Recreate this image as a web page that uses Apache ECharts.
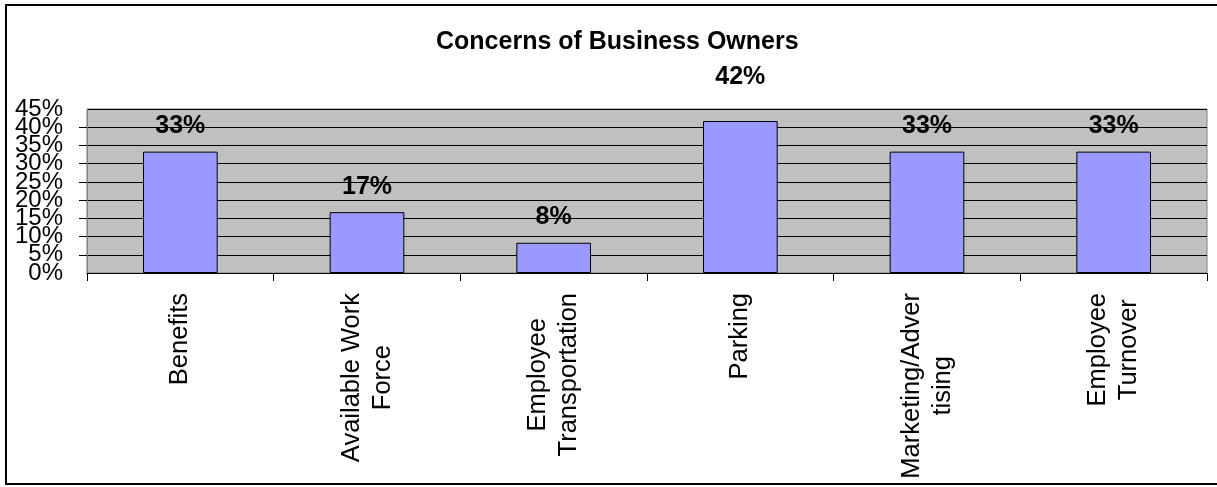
<!DOCTYPE html>
<html>
<head>
<meta charset="utf-8">
<script src="https://cdn.jsdelivr.net/npm/echarts@6/dist/echarts.min.js"></script>
<style>
html,body{margin:0;padding:0;background:#fff;}
#chart{width:1217px;height:487px;}
</style>
</head>
<body>
<div id="chart"></div>
<script>
var title = 'Concerns of Business Owners';
var categories = ['Benefits', 'Available Work\nForce', 'Employee\nTransportation', 'Parking', 'Marketing/Adver\ntising', 'Employee\nTurnover'];
var values = [0.333, 0.167, 0.083, 0.417, 0.333, 0.333];
var yTicks = [0, 0.05, 0.10, 0.15, 0.20, 0.25, 0.30, 0.35, 0.40, 0.45];

var FONT = "'Liberation Sans', Arial, sans-serif";
var chart = echarts.init(document.getElementById('chart'), null, {renderer: 'canvas'});

var yMin = yTicks[0];
var yMax = yTicks[yTicks.length - 1];
var yStep = yTicks[1] - yTicks[0];
function pct(v) { return Math.round(v * 100) + '%'; }

var seriesData = values.map(function (v, i) {
  var item = {value: v};
  if (categories[i] === 'Parking') {
    item.label = {distance: 31};
  }
  return item;
});

var yLabelBase = {
  margin: 24,
  color: '#000',
  fontFamily: FONT,
  fontSize: 24,
  hideOverlap: false
};

var option = {
  backgroundColor: '#ffffff',
  animation: false,
  title: {
    text: title,
    left: 436,
    top: 30,
    padding: 0,
    textStyle: {fontFamily: FONT, fontSize: 25, fontWeight: 'bold', color: '#000'}
  },
  graphic: [{
    type: 'rect',
    shape: {x: 6, y: 5, width: 1225, height: 479},
    style: {fill: 'none', stroke: '#000', lineWidth: 2},
    silent: true,
    z: 100
  }],
  grid: {
    left: 87, right: 10, top: 109, bottom: 214,
    show: true,
    backgroundColor: '#C0C0C0',
    borderColor: '#808080',
    borderWidth: 1
  },
  xAxis: {
    type: 'category',
    data: categories,
    boundaryGap: true,
    axisLine: {show: true, lineStyle: {color: '#000', width: 1}},
    axisTick: {show: true, length: 8, interval: 0, lineStyle: {color: '#000'}},
    axisLabel: {
      interval: 0,
      rotate: 90,
      margin: 20,
      color: '#000',
      fontFamily: FONT,
      fontSize: 25.5,
      lineHeight: 31,
      formatter: function (v) {
        return v.split('\n').map(function (s) { return '{c|' + s + '}'; }).join('\n');
      },
      rich: {c: {align: 'center', fontFamily: FONT, fontSize: 25.5, lineHeight: 31, color: '#000'}}
    },
    splitLine: {show: false}
  },
  yAxis: [{
    type: 'value',
    position: 'left',
    min: yMin,
    max: yMax,
    interval: yStep,
    axisLine: {show: true, lineStyle: {color: '#808080', width: 1}},
    axisTick: {show: true, length: 8, lineStyle: {color: '#000'}},
    axisLabel: Object.assign({}, yLabelBase, {
      showMinLabel: false,
      showMaxLabel: false,
      formatter: pct
    }),
    splitLine: {show: true, lineStyle: {color: '#000', width: 1}}
  }, {
    type: 'value',
    position: 'left',
    offset: 0,
    min: yMin,
    max: yMax,
    interval: yStep,
    axisLine: {show: false},
    axisTick: {show: false},
    splitLine: {show: false},
    axisLabel: Object.assign({}, yLabelBase, {
      showMinLabel: true,
      showMaxLabel: true,
      formatter: function (v) {
        return (Math.abs(v - yMin) < 1e-9 || Math.abs(v - yMax) < 1e-9) ? pct(v) : '';
      }
    })
  }],
  series: [{
    type: 'bar',
    yAxisIndex: 0,
    data: seriesData,
    barWidth: '40%',
    itemStyle: {color: '#9999FF', borderColor: '#000', borderWidth: 1},
    label: {
      show: true,
      position: 'top',
      distance: 13,
      color: '#000',
      fontFamily: FONT,
      fontSize: 25,
      fontWeight: 'bold',
      formatter: function (p) { return pct(p.value); }
    }
  }]
};
chart.setOption(option);
</script>
</body>
</html>
